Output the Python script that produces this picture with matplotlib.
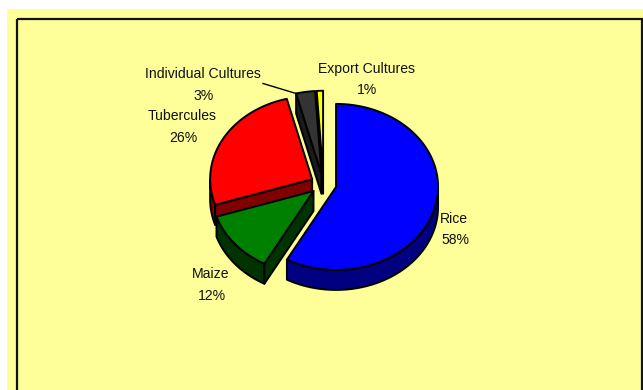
import numpy as np
import matplotlib
matplotlib.use("Agg")
import matplotlib.pyplot as plt
from matplotlib.patches import Polygon, Rectangle

# crop shares (percent of cultivated area)
crops = ['Rice', 'Maize', 'Tubercules', 'Individual Cultures', 'Export Cultures']
shares = [58, 12, 26, 3, 1]

# face / side colours of each slice
top_colors = ['#0000FF', '#008000', '#FF0000', '#333333', '#FFFF00']
side_colors = ['#000080', '#003300', '#800000', '#1A1A1A', '#808000']

# label baselines (pixels), percentage goes one line below
label_xy = [(454, 223), (211, 278), (182, 120), (203, 78), (366, 73)]

W, H = 643, 390
cx, cy = 323.5, 184.3     # pie centre
rx, ry = 102.0, 83.0      # radii of the tilted top face
depth = 20.0              # thickness of the disc
explode = 0.127

fig = plt.figure(figsize=(W / 100, H / 100), dpi=100)
ax = fig.add_axes([0, 0, 1, 1])
ax.set_xlim(0, W)
ax.set_ylim(H, 0)
ax.axis('off')

ax.add_patch(Rectangle((7, 9), W, H, facecolor='#FFFF99', edgecolor='none'))
ax.add_patch(Rectangle((17, 19), 625, H, facecolor='none',
                       edgecolor='#111111', lw=1.6))


def pt(ox, oy, th):
    # th measured clockwise from 12 o'clock, degrees
    r = np.radians(th)
    return ox + rx * np.sin(r), oy - ry * np.cos(r)


total = float(sum(shares))
bounds = np.concatenate([[0], np.cumsum(shares) / total * 360])

slices = []
for i, v in enumerate(shares):
    t1, t2 = bounds[i], bounds[i + 1]
    mid = np.radians((t1 + t2) / 2)
    ox = cx + explode * rx * np.sin(mid)
    oy = cy - explode * ry * np.cos(mid)
    slices.append((oy, i, ox, t1, t2))

edge = dict(edgecolor='black', lw=1.4, joinstyle='round')

# back slices first
for oy, i, ox, t1, t2 in sorted(slices):
    side = side_colors[i]
    # outer wall, only the front half of the rim is seen
    a1, a2 = max(t1, 90), min(t2, 270)
    if a2 > a1:
        th = np.linspace(a1, a2, 80)
        upper = [pt(ox, oy, t) for t in th]
        lower = [(x, y + depth) for x, y in upper[::-1]]
        ax.add_patch(Polygon(upper + lower, closed=True, facecolor=side, **edge))
    # radial walls facing the viewer
    for t, seen in ((t1, np.sin(np.radians(t1)) < -1e-6),
                    (t2, np.sin(np.radians(t2)) > 1e-6)):
        if seen:
            ex, ey = pt(ox, oy, t)
            quad = [(ox, oy), (ex, ey), (ex, ey + depth), (ox, oy + depth)]
            ax.add_patch(Polygon(quad, closed=True, facecolor=side, **edge))
    # top face
    th = np.linspace(t1, t2, max(4, int((t2 - t1) * 2)))
    face = [(ox, oy)] + [pt(ox, oy, t) for t in th]
    ax.add_patch(Polygon(face, closed=True, facecolor=top_colors[i], **edge))

# data labels
for (x, y), name, v in zip(label_xy, crops, shares):
    kw = dict(ha='center', va='baseline', fontsize=10.1,
              family='Liberation Sans', color='#111111')
    ax.text(x, y, name, **kw)
    ax.text(x + 1, y + 21.5, f'{v}%', **kw)

# leader line for the small slice
gi = crops.index('Individual Cultures')
g = [s for s in slices if s[1] == gi][0]
gx, gy = pt(g[2], g[0], g[3])
ax.plot([263, gx], [83.5, gy], color='black', lw=1.0)

fig.savefig('out.png', dpi=100)
